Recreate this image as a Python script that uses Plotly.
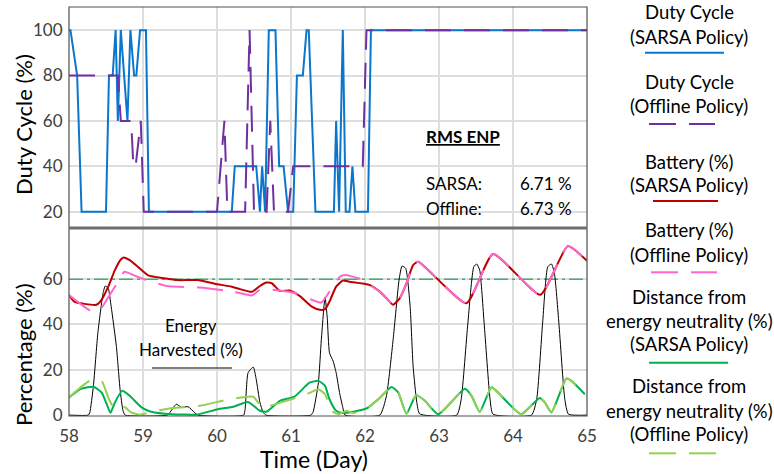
import plotly.graph_objects as go

# ---------------- data ----------------
# Duty cycle (top panel)
dc_sarsa_day = [58.0, 58.02, 58.11, 58.17, 58.50, 58.54, 58.59, 58.63, 58.66, 58.70, 58.79, 58.83, 58.88,
                58.91, 58.96, 59.04, 59.08, 60.20, 60.24, 60.53, 60.58, 60.61, 60.65, 60.70, 60.79, 60.84,
                60.90, 60.96, 61.03, 61.08, 61.16, 61.21, 61.24, 61.33, 61.58, 61.61, 61.65, 61.70, 61.74,
                61.79, 61.83, 61.87, 62.04, 62.08, 65.0]
dc_sarsa_val = [100, 100, 80, 20, 20, 80, 80, 100, 60, 100, 60, 100, 80,
                80, 100, 100, 20, 20, 40, 40, 20, 40, 20, 100, 100, 40,
                40, 20, 20, 80, 80, 100, 100, 20, 20, 60, 20, 100, 20,
                20, 40, 20, 20, 100, 100]

dc_off_day = [58.0, 58.66, 58.70, 58.84, 58.87, 58.90, 58.97, 59.01, 60.00, 60.10, 60.14, 60.38, 60.44,
              60.50, 60.67, 60.72, 60.77, 60.96, 61.03, 61.97, 62.02, 65.0]
dc_off_val = [80, 80, 60, 60, 40, 40, 60, 20, 20, 60, 20, 20, 100,
              20, 20, 60, 20, 20, 40, 40, 100, 100]

# Battery (bottom panel)
bat_sarsa_day = [58.0, 58.07, 58.21, 58.37, 58.44, 58.53, 58.62, 58.70, 58.74, 58.82, 58.93, 59.07, 59.29,
                 59.47, 59.74, 59.97, 60.20, 60.31, 60.44, 60.48, 60.58, 60.67, 60.74, 60.85, 60.98, 61.12,
                 61.28, 61.39, 61.46, 61.52, 61.61, 61.70, 61.79, 62.06, 62.20, 62.31, 62.38, 62.47, 62.56,
                 62.65, 62.72, 63.37, 63.73, 64.37, 64.74, 65.0]
bat_sarsa_val = [53.0, 50.1, 49.1, 48.7, 50.9, 56.7, 64.0, 68.7, 69.6, 68.4, 65.5, 61.7, 60.4,
                 59.6, 59.6, 58.0, 56.7, 55.6, 54.5, 54.5, 57.0, 58.5, 58.2, 54.8, 55.0, 52.5,
                 47.9, 46.5, 46.8, 50.1, 56.7, 59.4, 58.9, 57.5, 54.5, 50.9, 48.7, 51.6, 58.2,
                 66.2, 67.7, 49.4, 71.1, 53.1, 74.6, 68.1]

bat_off_day = [58.0, 58.17, 58.30, 58.44, 58.53, 58.62, 58.75, 58.87, 59.05, 59.32, 59.77, 60.22, 60.47,
               60.58, 60.76, 61.07, 61.28, 61.41, 61.52, 61.66, 61.73, 61.91, 62.06, 62.20, 62.31, 62.38,
               62.47, 62.56, 62.65, 62.72, 63.37, 63.73, 64.37, 64.74, 65.0]
bat_off_val = [53.0, 48.7, 46.0, 47.4, 52.0, 56.7, 63.3, 61.8, 59.6, 57.0, 56.3, 54.5, 52.8,
               55.3, 55.3, 53.8, 50.9, 49.7, 54.5, 61.1, 61.8, 60.4, 57.5, 54.5, 50.9, 48.7,
               51.6, 58.2, 66.2, 67.7, 49.4, 71.1, 53.1, 74.6, 68.1]

# Distance from energy neutrality
den_sarsa_day = [58.0, 58.17, 58.33, 58.44, 58.51, 58.56, 58.62, 58.72, 58.82, 58.98, 59.11, 59.39, 59.74,
                 60.01, 60.22, 60.42, 60.58, 60.67, 60.85, 61.05, 61.25, 61.37, 61.46, 61.52, 61.61, 61.70,
                 62.02, 62.18, 62.36, 62.45, 62.56, 62.69, 62.81, 62.99, 63.35, 63.44, 63.55, 63.71, 63.80,
                 64.11, 64.36, 64.43, 64.52, 64.72, 64.79, 64.97]
den_sarsa_val = [7.8, 11.7, 12.5, 10.0, 4.8, 1.0, 5.6, 10.7, 8.5, 3.4, 1.5, 0.4, 0.3,
                 2.6, 3.7, 5.8, 1.9, 1.5, 6.3, 8.2, 14.3, 15.1, 12.9, 7.0, 1.9, 0.9,
                 2.9, 7.0, 12.4, 9.9, 0.6, 8.8, 6.3, 0.4, 11.6, 8.5, 1.4, 12.3, 9.9,
                 0.4, 7.6, 5.6, 1.2, 16.1, 15.1, 9.2]

den_off_day = [58.0, 58.28, 58.44, 58.53, 58.60, 58.69, 58.75, 58.84, 58.96, 59.18, 59.41, 59.77, 60.17,
               60.49, 60.60, 60.71, 60.94, 61.21, 61.37, 61.46, 61.55, 61.64, 61.75, 61.84, 62.02, 62.18,
               62.36, 62.45, 62.56, 62.69, 62.81, 62.99, 63.35, 63.44, 63.55, 63.71, 63.80, 64.11, 64.36,
               64.43, 64.52, 64.72, 64.79, 64.97]
den_off_val = [7.8, 15.1, 15.0, 7.8, 3.4, 2.6, 3.6, 1.2, 0.2, 1.9, 3.1, 4.1, 7.0,
               8.1, 3.8, 4.1, 6.3, 9.2, 11.4, 9.2, 1.9, 0.4, 1.9, 0.9, 2.7, 7.0,
               12.4, 9.9, 0.6, 8.8, 6.3, 0.4, 11.6, 8.5, 1.4, 12.3, 9.9, 0.4, 7.6,
               5.6, 1.2, 16.1, 15.1, 9.2]

# Energy harvested
eh_day = [58.0, 58.26, 58.28, 58.33, 58.39, 58.46, 58.49, 58.53, 58.57, 58.64, 58.69, 58.73, 58.76,
          59.33, 59.36, 59.45, 59.52, 59.61, 59.70, 59.74,
          60.36, 60.38, 60.42, 60.49, 60.53, 60.58, 60.62, 60.66,
          61.27, 61.30, 61.37, 61.41, 61.46, 61.49, 61.52, 61.57, 61.61, 61.66, 61.70, 61.73,
          62.20, 62.29, 62.38, 62.46, 62.50, 62.55, 62.61, 62.65, 62.70, 62.74,
          63.24, 63.30, 63.39, 63.47, 63.51, 63.55, 63.61, 63.69, 63.73,
          64.25, 64.32, 64.40, 64.47, 64.52, 64.56, 64.62, 64.70, 64.75, 65.0]
eh_val = [0, 0, 1.0, 12.9, 36.3, 53.8, 57.0, 56.0, 47.9, 30.4, 11.4, 1.9, 0,
          0, 1.0, 4.8, 3.4, 3.7, 1.0, 0,
          0, 2.6, 18.7, 21.2, 15.8, 5.6, 1.5, 0,
          0, 1.5, 14.3, 33.3, 52.0, 42.8, 27.5, 23.8, 18.7, 9.2, 3.4, 0,
          0, 8.5, 33.3, 59.6, 65.8, 64.8, 47.9, 21.6, 5.6, 0.5,
          0, 7.0, 40.6, 65.5, 66.7, 64.0, 40.6, 7.0, 0.4,
          0, 7.0, 40.6, 65.5, 66.7, 62.6, 40.6, 7.0, 0.4, 0]

enp_ref_level = 60
x_ticks = [58, 59, 60, 61, 62, 63, 64, 65]
dc_ticks = [20, 40, 60, 80, 100]
pct_ticks = [0, 20, 40, 60]

rms_sarsa = "6.71 %"
rms_offline = "6.73 %"

# ---------------- layout helpers ----------------
W, H = 774, 474
L, R, T, B = 69, 587, 7, 416          # plot area in pixels
SPLIT = 228                            # divider between panels


def px(x):
    return (x - L) / (R - L)


def py(y):
    return (B - y) / (B - T)


split_dom = py(SPLIT)

BLUE = "#0b77cc"
PURPLE = "#7030a0"
RED = "#c00000"
PINK = "#ff66cc"
GREEN = "#00b050"
LGREEN = "#92d050"
DASH = "26px,13px"
FONT = "Lato"

fig = go.Figure()

# top panel
fig.add_trace(go.Scatter(x=dc_sarsa_day, y=dc_sarsa_val, mode="lines",
                         line=dict(color=BLUE, width=2), xaxis="x2", yaxis="y2"))
fig.add_trace(go.Scatter(x=dc_off_day, y=dc_off_val, mode="lines",
                         line=dict(color=PURPLE, width=2, dash=DASH), xaxis="x2", yaxis="y2"))

# bottom panel
fig.add_trace(go.Scatter(x=[58, 65], y=[enp_ref_level, enp_ref_level], mode="lines",
                         line=dict(color="#3cb371", width=1.5, dash="14px,4px,3px,4px")))
fig.add_trace(go.Scatter(x=eh_day, y=eh_val, mode="lines",
                         line=dict(color="black", width=1, shape="spline", smoothing=0.5)))
fig.add_trace(go.Scatter(x=den_sarsa_day, y=den_sarsa_val, mode="lines",
                         line=dict(color=GREEN, width=2, shape="spline", smoothing=0.5)))
fig.add_trace(go.Scatter(x=den_off_day, y=den_off_val, mode="lines",
                         line=dict(color=LGREEN, width=2, dash=DASH, shape="spline", smoothing=0.5)))
fig.add_trace(go.Scatter(x=bat_sarsa_day, y=bat_sarsa_val, mode="lines",
                         line=dict(color=RED, width=2, shape="spline", smoothing=0.5)))
fig.add_trace(go.Scatter(x=bat_off_day, y=bat_off_val, mode="lines",
                         line=dict(color=PINK, width=2, dash=DASH, shape="spline", smoothing=0.5)))

tickfont = dict(family=FONT, size=17, color="#404040")
grid = "#dedede"

fig.update_layout(
    width=W, height=H,
    margin=dict(l=L, r=W - R, t=T, b=H - B, pad=0),
    paper_bgcolor="white", plot_bgcolor="white",
    showlegend=False,
    xaxis=dict(domain=[0, 1], range=[58, 65], tickvals=x_ticks, anchor="y",
               showgrid=True, gridcolor=grid, gridwidth=1.5, zeroline=False,
               ticks="outside", ticklen=5, tickcolor="rgba(0,0,0,0)", tickfont=tickfont,
               showline=False),
    xaxis2=dict(domain=[0, 1], range=[58, 65], tickvals=x_ticks, anchor="y2", matches="x",
                showgrid=True, gridcolor=grid, gridwidth=1.5, zeroline=False,
                showticklabels=False, ticks="", showline=False),
    yaxis=dict(domain=[0, split_dom], range=[-0.4, 82.6], tickvals=pct_ticks,
               showgrid=True, gridcolor=grid, gridwidth=1.5, zeroline=False,
               ticks="outside", ticklen=2, tickcolor="rgba(0,0,0,0)", tickfont=tickfont,
               showline=False),
    yaxis2=dict(domain=[split_dom, 1], range=[12.8, 110.2], tickvals=dc_ticks,
                showgrid=True, gridcolor=grid, gridwidth=1.5, zeroline=False,
                ticks="outside", ticklen=2, tickcolor="rgba(0,0,0,0)", tickfont=tickfont,
                showline=False),
)

shapes = [
    dict(type="rect", xref="paper", yref="paper", x0=0, x1=1, y0=0, y1=1,
         line=dict(color="#505050", width=1.2)),
    dict(type="line", xref="paper", yref="paper", x0=0, x1=1, y0=split_dom, y1=split_dom,
         line=dict(color="#6e6e6e", width=3)),
    # "Energy Harvested" key line
    dict(type="line", xref="paper", yref="paper", x0=px(152), x1=px(232), y0=py(368), y1=py(368),
         line=dict(color="black", width=1)),
]


def key_line(y, color, x0, x1, dashed):
    if dashed:
        segs = [(x0, x0 + 27), (x0 + 40, x1)]
    else:
        segs = [(x0, x1)]
    for a, b in segs:
        shapes.append(dict(type="line", xref="paper", yref="paper", x0=px(a), x1=px(b),
                           y0=py(y), y1=py(y), line=dict(color=color, width=2)))


key_line(52.7, BLUE, 645, 724, False)
key_line(124, PURPLE, 649, 715, True)
key_line(201, RED, 653, 718, False)
key_line(272.3, PINK, 651, 717, True)
key_line(362.7, GREEN, 649, 728, False)
key_line(453.3, LGREEN, 649, 716, True)
fig.update_layout(shapes=shapes)

ann = []


def text(t, x, y, size=16, anchor="center", angle=0, color="black"):
    ann.append(dict(text=t, x=px(x), y=py(y), xref="paper", yref="paper", showarrow=False,
                    xanchor=anchor, yanchor="middle", textangle=angle,
                    font=dict(family=FONT, size=size, color=color)))


# legend texts
LX = 689
for t, y in [("Duty Cycle", 12.3), ("(SARSA Policy)", 36.7),
             ("Duty Cycle", 81.7), ("(Offline Policy)", 106),
             ("Battery (%)", 161.7), ("(SARSA Policy)", 185),
             ("Battery (%)", 230), ("(Offline Policy)", 255),
             ("Distance from", 296.7), ("energy neutrality (%)", 321), ("(SARSA Policy)", 344.3),
             ("Distance from", 386), ("energy neutrality (%)", 411), ("(Offline Policy)", 434)]:
    text(t, LX, y, size=18.5)

# RMS ENP box
text("<b><u>RMS ENP</u></b>", 424, 136.7, size=17, anchor="left")
text("SARSA:", 424, 183.3, size=17, anchor="left")
text(rms_sarsa, 517.7, 183.3, size=17, anchor="left")
text("Offline:", 424, 208.3, size=17, anchor="left")
text(rms_offline, 517.7, 208.3, size=17, anchor="left")

# energy harvested label
text("Energy", 191, 325, size=17)
text("Harvested (%)", 191, 349.3, size=17)

# axis titles
text("Duty Cycle (%)", 23, 125, size=22, angle=-90)
text("Percentage (%)", 23, 355, size=22, angle=-90)
text("Time (Day)", 314, 459, size=23)

fig.update_layout(annotations=ann)
fig.write_html("out.html")
